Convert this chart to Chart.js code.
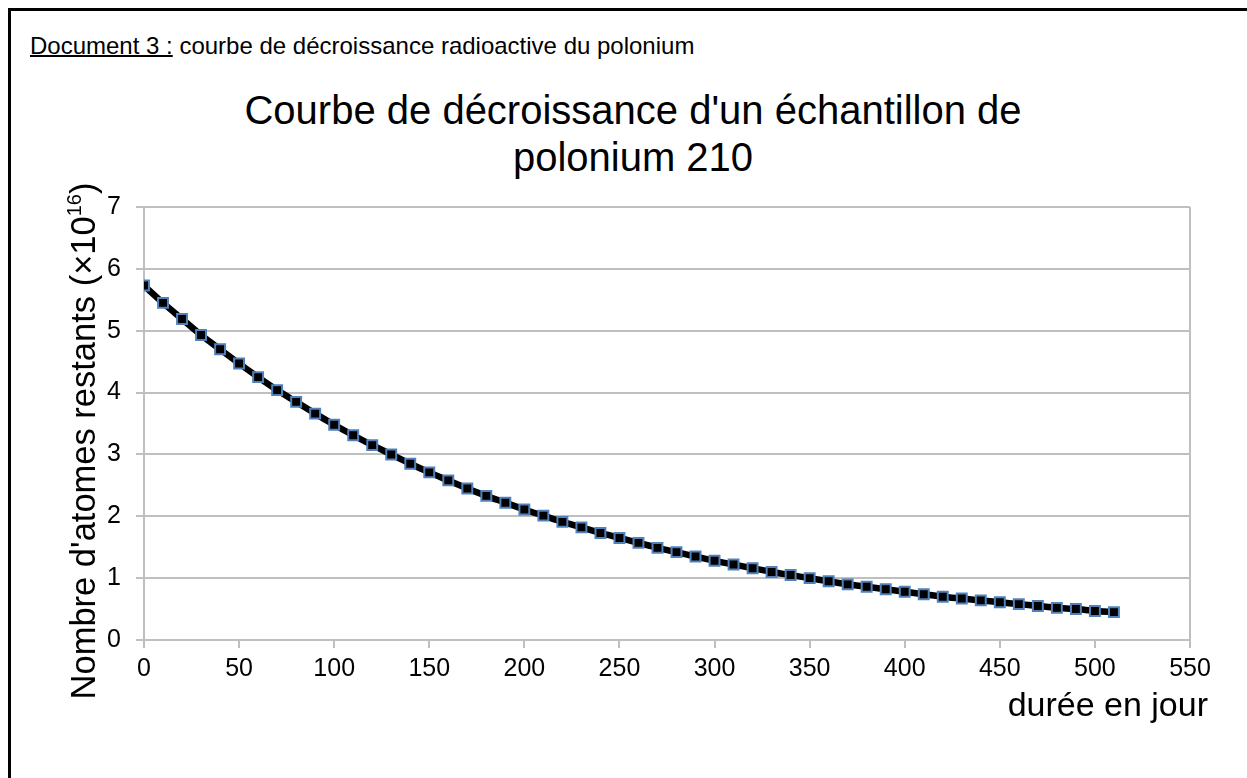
<!DOCTYPE html>
<html>
<head>
<meta charset="utf-8">
<script src="https://cdn.jsdelivr.net/npm/chart.js@4"></script>
<style>
  body { margin: 0; background: #fff; font-family: "Liberation Sans", Arial, sans-serif; color: #000; }
  #page { position: relative; width: 1247px; height: 778px; overflow: hidden; }
  #cadre { position: absolute; left: 8px; top: 8px; width: 1300px; height: 900px; border: 3px solid #000; }
  #entete { position: absolute; left: 30px; top: 34px; font-size: 24px; line-height: 24px; white-space: nowrap; }
  #entete u { text-decoration-thickness: 2px; }
  #titre { position: absolute; left: 0; width: 1266px; top: 87px; font-size: 40px; line-height: 47px; text-align: center; }
  #titreY { position: absolute; width: 640px; left: -237px; top: 424px; height: 34px; font-size: 34.5px; line-height: 34px;
            text-align: center; white-space: nowrap; transform: rotate(-90deg); transform-origin: 50% 50%; }
  #titreY sup { font-size: 20px; line-height: 0; vertical-align: 14px; }
  #titreX { position: absolute; left: 800px; width: 408px; top: 687px; font-size: 34px; line-height: 34px; text-align: right; white-space: nowrap; }
  canvas { position: absolute; left: 0; top: 0; }
</style>
</head>
<body>
<div id="page">
  <div id="cadre"></div>
  <div id="entete"><u>Document 3 :</u> courbe de décroissance radioactive du polonium</div>
  <div id="titre">Courbe de décroissance d'un échantillon de<br>polonium 210</div>
  <canvas id="graphe" width="1247" height="778"></canvas>
  <div id="titreY">Nombre d'atomes restants (×10<sup>16</sup>)</div>
  <div id="titreX">durée en jour</div>
</div>
<script>
// durée en jours
const jours = [0, 10, 20, 30, 40, 50, 60, 70, 80, 90, 100, 110, 120, 130, 140, 150, 160, 170, 180, 190,
  200, 210, 220, 230, 240, 250, 260, 270, 280, 290, 300, 310, 320, 330, 340, 350, 360, 370, 380, 390,
  400, 410, 420, 430, 440, 450, 460, 470, 480, 490, 500, 510];
// nombre d'atomes restants (x10^16)
const atomes = [5.73, 5.45, 5.19, 4.93, 4.70, 4.47, 4.25, 4.04, 3.85, 3.66, 3.48, 3.31, 3.15, 3.00, 2.85,
  2.71, 2.58, 2.45, 2.33, 2.22, 2.11, 2.01, 1.91, 1.82, 1.73, 1.65, 1.57, 1.49, 1.42, 1.35, 1.28, 1.22,
  1.16, 1.10, 1.05, 1.00, 0.95, 0.90, 0.86, 0.82, 0.78, 0.74, 0.70, 0.67, 0.64, 0.61, 0.58, 0.55, 0.52,
  0.50, 0.47, 0.45];
// graduations
const xMin = 0, xMax = 550, xPas = 50;
const yMin = 0, yMax = 7, yPas = 1;

const gris = '#bfbfbf';

const points = jours.map((j, i) => ({ x: j, y: atomes[i] }));

new Chart(document.getElementById('graphe'), {
  type: 'line',
  data: {
    datasets: [{
      data: points,
      borderColor: '#000',
      borderWidth: 6.5,
      tension: 0.3,
      pointStyle: 'rect',
      pointRadius: 7,
      pointBackgroundColor: '#000',
      pointBorderColor: '#4f81bd',
      pointBorderWidth: 2
    }]
  },
  options: {
    responsive: false,
    animation: false,
    layout: { padding: { left: 0, top: 207, right: 57, bottom: 98 } },
    plugins: { legend: { display: false }, tooltip: { enabled: false }, title: { display: false } },
    scales: {
      x: {
        type: 'linear',
        min: xMin, max: xMax,
        afterFit: (scale) => { scale.height = 40; },
        ticks: { stepSize: xPas, color: '#000', padding: 6, font: { family: 'Liberation Sans', size: 25 } },
        grid: {
          color: (ctx) => ctx.tick && ctx.tick.value === xMax ? gris : 'rgba(0,0,0,0)',
          tickColor: gris, tickLength: 8, lineWidth: 2
        },
        border: { color: gris, width: 2 }
      },
      y: {
        min: yMin, max: yMax,
        afterFit: (scale) => { scale.width = 144; },
        ticks: { stepSize: yPas, color: '#000', padding: 15, font: { family: 'Liberation Sans', size: 25 } },
        grid: { color: gris, tickColor: gris, tickLength: 8, lineWidth: 2 },
        border: { color: gris, width: 2 }
      }
    }
  }
});
</script>
</body>
</html>
